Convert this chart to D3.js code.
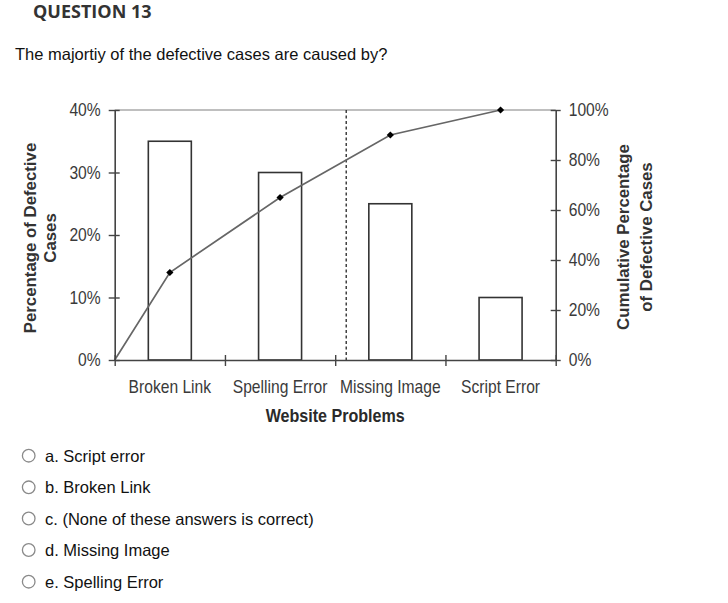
<!DOCTYPE html>
<html>
<head>
<meta charset="utf-8">
<script src="https://cdn.jsdelivr.net/npm/d3@7"></script>
<style>
  html, body { margin: 0; padding: 0; background: #fff; }
  svg { display: block; }
</style>
</head>
<body>
<svg id="chart" width="728" height="603"></svg>
<script>
// ---------------- data ----------------
const categories = ["Broken Link", "Spelling Error", "Missing Image", "Script Error"];
const defectPct = [35, 30, 25, 10];
const cumulativePct = [35, 65, 90, 100];
const leftTicks = [0, 10, 20, 30, 40];
const rightTicks = [0, 20, 40, 60, 80, 100];
const paretoThreshold = 80;
const questionTitle = "QUESTION 13";
const questionText = "The majortiy of the defective cases are caused by?";
const answerLetters = ["a.", "b.", "c.", "d.", "e."];
const answerTexts = ["Script error", "Broken Link", "(None of these answers is correct)", "Missing Image", "Spelling Error"];

// ---------------- font detection ----------------
function fontAvailable(name) {
  const c = document.createElement("canvas").getContext("2d");
  const s = "Broken Link 0123456789%";
  c.font = "20px monospace";
  const w0 = c.measureText(s).width;
  c.font = "20px '" + name + "', monospace";
  return Math.abs(c.measureText(s).width - w0) > 0.5;
}
const hasNarrow = fontAvailable("Liberation Sans Narrow");
const chartFont = hasNarrow ? "'Liberation Sans Narrow', 'Arial Narrow', sans-serif" : "'Liberation Sans', Arial, sans-serif";
const narrowK = hasNarrow ? 1 : 0.82;
const stretch = 1.09 * narrowK;   // horizontal text stretch of the picture

// ---------------- layout ----------------
const svg = d3.select("#chart");
const X0 = 114.7, X1 = 555.7, Y0 = 110, Y1 = 360;

const x = d3.scaleBand().domain(categories).range([X0, X1]).paddingInner(0).paddingOuter(0);
const yL = d3.scaleLinear().domain([0, 40]).range([Y1, Y0]);
const yR = d3.scaleLinear().domain([0, 100]).range([Y1, Y0]);
const barW = x.bandwidth() * 0.39;

// ---------------- header text ----------------
svg.append("text").attr("x", 33).attr("y", 17.5)
  .attr("font-family", "'Open Sans', sans-serif").attr("font-weight", 700)
  .attr("font-size", 18).attr("fill", "#333").text(questionTitle);

svg.append("text").attr("x", 15).attr("y", 60)
  .attr("font-family", "'Liberation Sans', Arial, sans-serif")
  .attr("font-size", 16.5).attr("fill", "#111").text(questionText);

// ---------------- top border ----------------
svg.append("line").attr("x1", X0).attr("x2", X1).attr("y1", yL(40)).attr("y2", yL(40))
  .attr("stroke", "#aaa").attr("stroke-width", 1.5);

// ---------------- bars ----------------
svg.append("g").selectAll("rect").data(categories).join("rect")
  .attr("x", (d) => x(d) + (x.bandwidth() - barW) / 2)
  .attr("y", (d, i) => yL(defectPct[i]))
  .attr("width", barW)
  .attr("height", (d, i) => yL(0) - yL(defectPct[i]))
  .attr("fill", "#fff").attr("stroke", "#333").attr("stroke-width", 1.6);

// ---------------- pareto threshold dashed line ----------------
const centers = categories.map((c) => x(c) + x.bandwidth() / 2);
const pts = [[x.range()[0], 0]].concat(categories.map((c, i) => [centers[i], cumulativePct[i]]));
let thrX = null;
for (let i = 1; i < pts.length; i++) {
  if (pts[i - 1][1] < paretoThreshold && pts[i][1] >= paretoThreshold) {
    const t = (paretoThreshold - pts[i - 1][1]) / (pts[i][1] - pts[i - 1][1]);
    thrX = pts[i - 1][0] + t * (pts[i][0] - pts[i - 1][0]);
    break;
  }
}
svg.append("line").attr("x1", thrX).attr("x2", thrX).attr("y1", yR(100)).attr("y2", yR(0))
  .attr("stroke", "#333").attr("stroke-width", 1.4).attr("stroke-dasharray", "3,2.5");

// ---------------- cumulative line ----------------
const line = d3.line().x((d) => d[0]).y((d) => yR(d[1]));
svg.append("path").datum(pts).attr("d", line)
  .attr("fill", "none").attr("stroke", "#666").attr("stroke-width", 1.7);

svg.append("g").selectAll("path").data(pts.slice(1)).join("path")
  .attr("d", d3.symbol().type(d3.symbolSquare).size(26))
  .attr("transform", (d) => `translate(${d[0]},${yR(d[1])}) rotate(45)`)
  .attr("fill", "#000");

// ---------------- axes ----------------
function styleAxis(g) {
  g.selectAll(".domain").attr("stroke", "#444").attr("stroke-width", 1.6);
  g.selectAll(".tick line").attr("stroke", "#444").attr("stroke-width", 1.4);
  g.selectAll("text").attr("font-family", chartFont).attr("font-size", 17.5).attr("fill", "#3a3a3a");
}

const gL = svg.append("g").attr("transform", `translate(${X0},0)`)
  .call(d3.axisLeft(yL).tickValues(leftTicks).tickFormat((d) => d + "%").tickSizeOuter(0).tickSizeInner(6).tickPadding(8));
styleAxis(gL);
gL.selectAll(".tick line").attr("x1", 5);
gL.selectAll(".tick text").attr("transform", `scale(${stretch},1)`).attr("x", -14 / stretch);

const gR = svg.append("g").attr("transform", `translate(${X1},0)`)
  .call(d3.axisRight(yR).tickValues(rightTicks).tickFormat((d) => d + "%").tickSizeOuter(0).tickSizeInner(5).tickPadding(8));
styleAxis(gR);
gR.selectAll(".tick line").attr("x1", -5);
gR.selectAll(".tick text").attr("transform", `scale(${stretch},1)`).attr("x", 13 / stretch);

// bottom axis: boundary ticks
const xb = d3.scaleLinear().domain([0, categories.length]).range([X0, X1]);
const gB = svg.append("g").attr("transform", `translate(0,${Y1})`)
  .call(d3.axisBottom(xb).tickValues(d3.range(categories.length + 1)).tickFormat("").tickSizeOuter(0).tickSizeInner(6));
styleAxis(gB);
gB.selectAll(".tick line").attr("y1", -5);

// bottom axis: category labels
const gC = svg.append("g").attr("transform", `translate(0,${Y1})`)
  .call(d3.axisBottom(x).tickSize(0).tickPadding(20));
gC.select(".domain").remove();
styleAxis(gC);
gC.selectAll(".tick text").attr("transform", `scale(${stretch},1)`).attr("x", 0).attr("dy", "0.71em")
  .attr("y", 20.5);

// axis titles
svg.append("text")
  .attr("transform", `translate(${(X0 + X1) / 2},421.5) scale(${stretch},1)`)
  .attr("text-anchor", "middle").attr("font-family", chartFont).attr("font-weight", 700)
  .attr("font-size", 18).attr("fill", "#2a2a2a").text("Website Problems");

function rotLabel(cx, cy, lines, gap) {
  const t = svg.append("text")
    .attr("transform", `translate(${cx},${cy}) rotate(-90)`)
    .attr("text-anchor", "middle").attr("font-family", chartFont).attr("font-weight", 700)
    .attr("font-size", 20.5 * narrowK).attr("fill", "#333");
  lines.forEach((l, i) => {
    t.append("tspan").attr("x", 0).attr("y", i * gap).attr("dominant-baseline", "central").text(l);
  });
}
rotLabel(30, 238, ["Percentage of Defective", "Cases"], 20);
rotLabel(623.5, 237, ["Cumulative Percentage", "of Defective Cases"], 23);

// ---------------- answers ----------------
const ansY = [455.7, 487.3, 518.5, 550, 581.7];
const ga = svg.append("g");
answerTexts.forEach((a, i) => {
  ga.append("circle").attr("cx", 28.7).attr("cy", ansY[i]).attr("r", 6.3)
    .attr("fill", "#fff").attr("stroke", "#8a8a8a").attr("stroke-width", 1.3);
  ga.append("text").attr("x", 45).attr("y", ansY[i] + 6)
    .attr("font-family", "'Liberation Sans', Arial, sans-serif").attr("font-size", 16.5).attr("fill", "#111")
    .text(answerLetters[i] + " " + a);
});
</script>
</body>
</html>
